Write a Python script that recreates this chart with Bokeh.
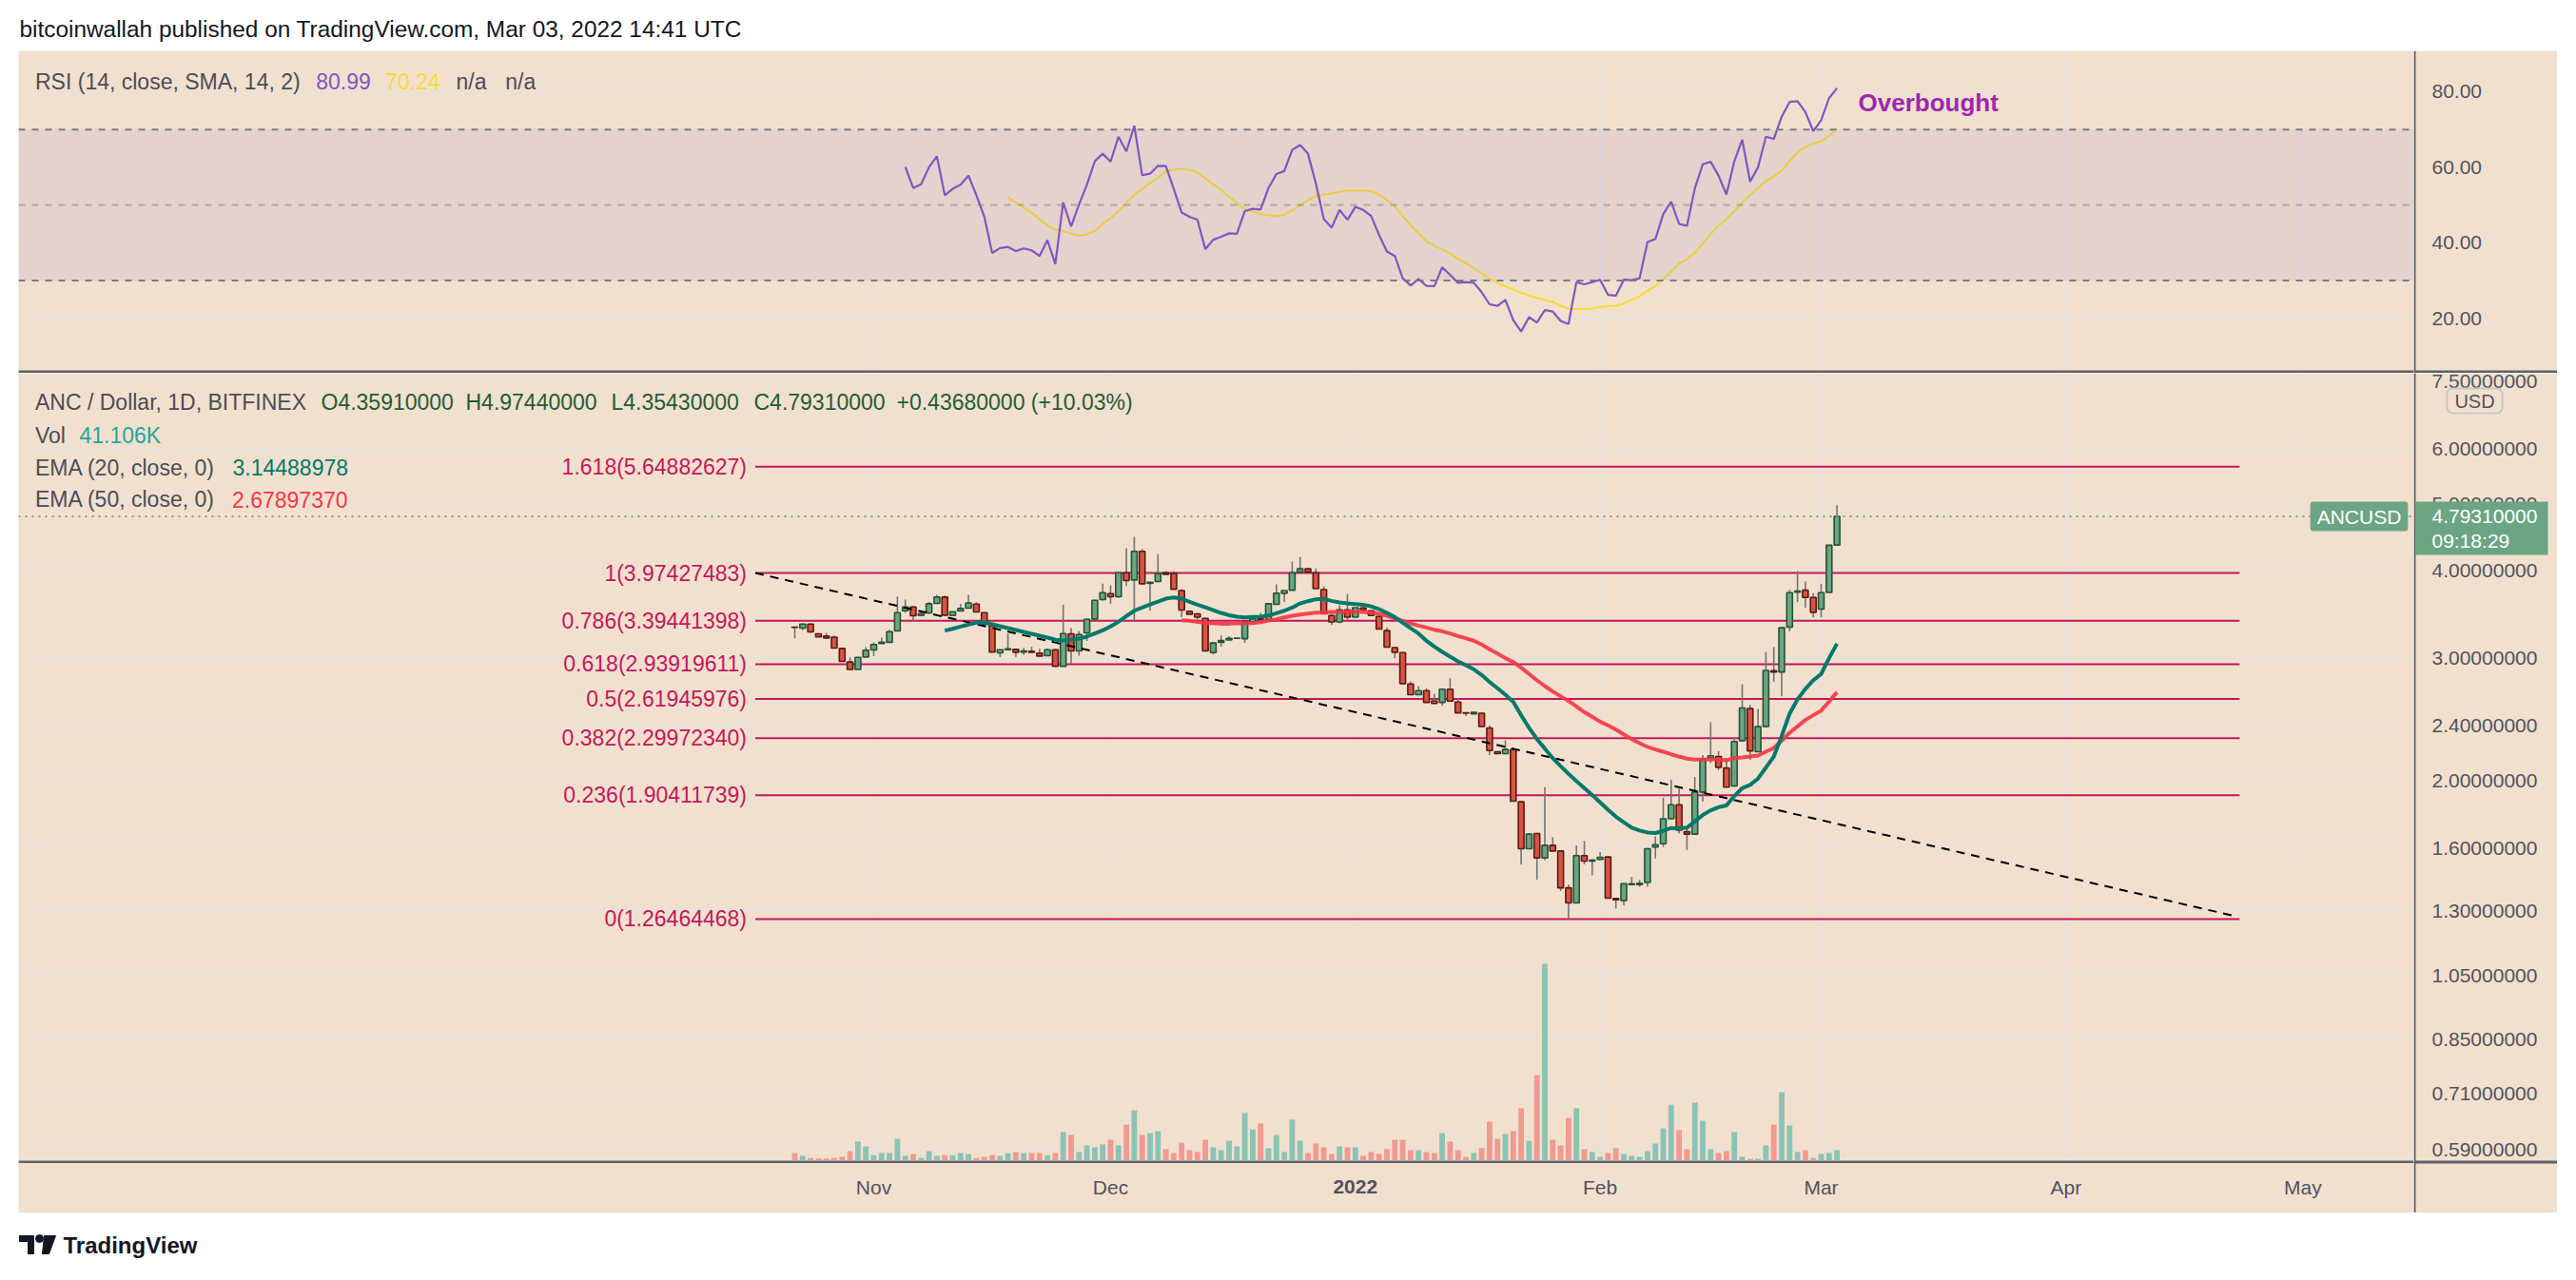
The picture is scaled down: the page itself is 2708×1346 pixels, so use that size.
import math
import pandas as pd
from bokeh.plotting import figure
from bokeh.models import (Range1d, LinearScale, FixedTicker, Grid, Label, BoxAnnotation,
                          Span, Spacer)
from bokeh.layouts import column, row
from bokeh.embed import file_html
from bokeh.resources import INLINE
from bokeh.core.properties import value

# ---------------------------------------------------------------- data
dates = pd.date_range("2021-10-22", "2022-03-03", freq="D")

opens = [3.322, 3.311, 3.356, 3.249, 3.225, 3.214, 3.096, 2.960, 2.888, 3.010,
         3.080, 3.146, 3.160, 3.280, 3.507, 3.551, 3.453, 3.482, 3.593, 3.670,
         3.453, 3.504, 3.537, 3.585, 3.486, 3.342, 3.051, 3.083, 3.086, 3.060,
         3.067, 3.048, 3.022, 3.083, 2.919, 3.249, 3.070, 3.259, 3.413, 3.639,
         3.712, 3.674, 3.978, 3.883, 4.269, 3.839, 3.863, 3.978, 3.970, 3.750,
         3.500, 3.471, 3.420, 3.054, 3.160, 3.183, 3.201, 3.198, 3.380, 3.413,
         3.405, 3.582, 3.716, 3.754, 3.986, 4.029, 3.978, 3.762, 3.453, 3.380,
         3.518, 3.434, 3.540, 3.507, 3.442, 3.284, 3.103, 3.054, 2.753, 2.657,
         2.693, 2.601, 2.590, 2.705, 2.593, 2.502, 2.494, 2.499, 2.380, 2.200,
         2.186, 2.216, 1.864, 1.596, 1.678, 1.548, 1.614, 1.584, 1.402, 1.334,
         1.560, 1.532, 1.540, 1.553, 1.354, 1.344, 1.417, 1.417, 1.427, 1.605,
         1.622, 1.762, 1.846, 1.688, 1.675, 1.925, 2.154, 2.165, 2.084, 1.964,
         2.282, 2.537, 2.200, 2.392, 2.876, 2.864, 3.322, 3.731, 3.754, 3.666,
         3.526, 3.727, 4.3591]
highs = [3.325, 3.363, 3.363, 3.252, 3.259, 3.232, 3.100, 3.006, 3.006, 3.110,
         3.160, 3.208, 3.294, 3.677, 3.639, 3.559, 3.507, 3.612, 3.696, 3.689,
         3.500, 3.589, 3.696, 3.608, 3.489, 3.346, 3.086, 3.252, 3.093, 3.103,
         3.113, 3.093, 3.093, 3.093, 3.580, 3.311, 3.277, 3.416, 3.639, 3.835,
         3.815, 3.978, 4.313, 4.479, 4.304, 3.855, 4.228, 3.999, 3.999, 3.766,
         3.504, 3.475, 3.427, 3.160, 3.232, 3.225, 3.204, 3.387, 3.423, 3.482,
         3.596, 3.827, 3.750, 4.127, 4.192, 4.029, 4.033, 3.803, 3.489, 3.574,
         3.708, 3.544, 3.570, 3.515, 3.449, 3.318, 3.110, 3.057, 2.777, 2.733,
         2.713, 2.665, 2.705, 2.806, 2.629, 2.505, 2.513, 2.507, 2.400, 2.204,
         2.284, 2.222, 1.867, 1.680, 1.682, 1.956, 1.657, 1.589, 1.417, 1.614,
         1.638, 1.543, 1.578, 1.556, 1.355, 1.424, 1.454, 1.439, 1.599, 1.663,
         1.889, 2.005, 1.946, 1.710, 2.023, 2.176, 2.425, 2.204, 2.154, 2.309,
         2.750, 2.568, 2.534, 3.060, 3.110, 3.322, 3.762, 3.999, 3.863, 3.716,
         3.835, 4.3563, 4.9744]
lows = [3.201, 3.287, 3.259, 3.218, 3.198, 3.100, 2.966, 2.888, 2.888, 3.010,
        3.019, 3.146, 3.160, 3.280, 3.482, 3.380, 3.446, 3.471, 3.593, 3.449,
        3.449, 3.500, 3.533, 3.486, 3.346, 3.054, 3.010, 3.077, 3.010, 3.029,
        3.051, 3.016, 3.022, 2.916, 2.916, 2.941, 3.022, 3.173, 3.413, 3.627,
        3.589, 3.658, 3.807, 3.391, 3.827, 3.507, 3.855, 3.953, 3.762, 3.434,
        3.467, 3.391, 3.067, 3.035, 3.116, 3.180, 3.198, 3.153, 3.380, 3.363,
        3.405, 3.582, 3.612, 3.754, 3.986, 3.986, 3.774, 3.471, 3.346, 3.363,
        3.405, 3.434, 3.518, 3.449, 3.301, 3.110, 2.997, 2.756, 2.657, 2.657,
        2.590, 2.581, 2.561, 2.601, 2.502, 2.476, 2.494, 2.392, 2.176, 2.186,
        2.181, 1.865, 1.515, 1.593, 1.440, 1.535, 1.581, 1.387, 1.2646, 1.334,
        1.515, 1.461, 1.537, 1.354, 1.309, 1.323, 1.415, 1.407, 1.407, 1.545,
        1.605, 1.756, 1.678, 1.589, 1.671, 1.865, 2.120, 2.070, 1.956, 1.960,
        2.275, 2.142, 2.196, 2.385, 2.771, 2.643, 3.277, 3.608, 3.544, 3.434,
        3.434, 3.727, 4.3543]
closes = [3.320, 3.356, 3.270, 3.218, 3.204, 3.100, 2.966, 2.888, 3.006, 3.077,
          3.136, 3.160, 3.273, 3.486, 3.551, 3.449, 3.475, 3.589, 3.670, 3.456,
          3.497, 3.533, 3.600, 3.493, 3.353, 3.060, 3.083, 3.093, 3.057, 3.070,
          3.057, 3.019, 3.083, 2.919, 3.252, 3.070, 3.242, 3.409, 3.631, 3.723,
          3.674, 3.978, 3.875, 4.269, 3.835, 3.855, 3.966, 3.957, 3.766, 3.515,
          3.467, 3.434, 3.070, 3.153, 3.177, 3.201, 3.204, 3.380, 3.416, 3.409,
          3.589, 3.716, 3.750, 3.978, 4.029, 3.986, 3.774, 3.471, 3.380, 3.518,
          3.434, 3.544, 3.518, 3.453, 3.301, 3.110, 3.057, 2.756, 2.657, 2.693,
          2.590, 2.581, 2.705, 2.601, 2.502, 2.500, 2.507, 2.392, 2.208, 2.186,
          2.216, 1.868, 1.596, 1.675, 1.548, 1.614, 1.584, 1.402, 1.334, 1.560,
          1.532, 1.537, 1.551, 1.355, 1.348, 1.421, 1.421, 1.423, 1.596, 1.617,
          1.762, 1.846, 1.697, 1.675, 1.925, 2.147, 2.170, 2.089, 1.956, 2.275,
          2.542, 2.206, 2.390, 2.879, 2.864, 3.315, 3.723, 3.742, 3.666, 3.489,
          3.723, 4.3563, 4.7931]
volumes_k = [30, 19, 11, 9, 9, 11, 15, 37, 75, 56,
             22, 30, 30, 86, 19, 26, 11, 37, 19, 22,
             22, 30, 26, 11, 15, 22, 19, 30, 34, 30,
             30, 30, 22, 30, 112, 101, 34, 60, 52, 64,
             82, 60, 142, 198, 101, 108, 116, 45, 30, 71,
             41, 34, 82, 52, 41, 78, 56, 187, 123, 146,
             49, 101, 34, 161, 78, 30, 67, 52, 26, 56,
             52, 52, 19, 34, 26, 45, 82, 82, 41, 41,
             34, 30, 108, 75, 41, 15, 30, 49, 153, 86,
             105, 116, 206, 78, 336, 774, 82, 60, 168, 206,
             45, 34, 15, 30, 49, 26, 19, 15, 37, 67,
             127, 220, 120, 45, 228, 157, 45, 30, 37, 112,
             15, 7, 7, 60, 142, 269, 138, 34, 41, 11,
             26, 30, 41.106]

ema20 = [3.284, 3.304, 3.329, 3.350, 3.371, 3.374, 3.353, 3.332, 3.311, 3.291,
         3.270, 3.250, 3.229, 3.209, 3.186, 3.179, 3.186, 3.199, 3.219, 3.253, 3.287,
         3.329, 3.381, 3.446, 3.507, 3.544, 3.582, 3.616, 3.650, 3.666, 3.650,
         3.612, 3.578, 3.548, 3.515, 3.482, 3.456, 3.438, 3.431, 3.435, 3.438,
         3.453, 3.478, 3.507, 3.544, 3.593, 3.620, 3.643, 3.647, 3.624, 3.605, 3.593,
         3.586, 3.578, 3.559, 3.526, 3.482, 3.435, 3.371, 3.311, 3.253, 3.176,
         3.116, 3.061, 3.014, 2.966, 2.929, 2.890, 2.836, 2.771, 2.714, 2.657,
         2.594, 2.482, 2.380, 2.294, 2.223, 2.154, 2.098, 2.044, 1.996, 1.950, 1.906,
         1.860, 1.816, 1.774, 1.742, 1.711, 1.695, 1.684, 1.681, 1.693, 1.709,
         1.706, 1.711, 1.747, 1.784, 1.812, 1.831, 1.841, 1.900, 1.950, 1.971,
         2.013, 2.087, 2.165, 2.318, 2.495, 2.616, 2.708, 2.786,
         2.845, 2.998, 3.14488978]
ema50 = [3.399, 3.392, 3.381, 3.371, 3.364, 3.360, 3.360, 3.364, 3.364, 3.367,
         3.378, 3.395, 3.409, 3.431, 3.449, 3.464, 3.475, 3.486, 3.489, 3.493, 3.493, 3.496,
         3.496, 3.493, 3.486, 3.471, 3.449, 3.420, 3.392, 3.364, 3.339, 3.318,
         3.294, 3.277, 3.253, 3.226, 3.202, 3.176, 3.136, 3.087, 3.045, 2.998,
         2.960, 2.905, 2.845, 2.786, 2.733, 2.685, 2.643, 2.602, 2.556, 2.508, 2.469,
         2.430, 2.400, 2.367, 2.330, 2.294, 2.263, 2.235, 2.216, 2.200, 2.181,
         2.165, 2.150, 2.143, 2.143, 2.147, 2.143, 2.138, 2.154, 2.158, 2.165,
         2.172, 2.200, 2.228, 2.282, 2.343, 2.392, 2.443, 2.482,
         2.521, 2.597, 2.67897370]

rsi = [60.1, 54.5, 55.5, 60.0, 62.9, 52.6, 54.3, 55.4, 57.8, 52.6,
       47.0, 37.3, 38.6, 38.9, 37.8, 38.5, 38.0, 36.5, 40.7, 34.4,
       50.7, 44.3, 50.1, 55.4, 61.6, 63.6, 61.5, 68.1, 64.2, 71.0,
       57.9, 58.3, 60.4, 60.3, 54.3, 48.0, 46.9, 46.1, 38.3, 40.8,
       41.6, 42.5, 42.4, 48.4, 49.0, 48.8, 54.5, 58.2, 59.0, 64.6,
       65.9, 63.6, 55.7, 46.3, 44.0, 48.7, 46.1, 49.5, 48.7, 47.1,
       42.1, 37.7, 36.5, 30.6, 28.7, 30.4, 28.6, 28.5, 33.5, 31.5,
       29.4, 29.6, 29.4, 26.9, 23.7, 23.3, 24.9, 19.5, 16.5, 20.3,
       18.9, 22.2, 21.8, 19.3, 18.5, 29.6, 29.0, 29.6, 30.2, 26.2,
       26.0, 30.2, 30.1, 30.6, 40.2, 41.0, 47.6, 50.9, 45.0, 44.5,
       54.4, 60.8, 61.5, 57.8, 52.8, 61.6, 67.3, 56.2, 60.0, 68.1,
       67.5, 73.4, 77.3, 77.5, 74.6, 69.6, 72.5, 78.3, 80.99]
rsi_ma = [52.0, 50.7, 49.3, 48.0, 46.3, 44.6, 43.5, 43.1, 42.4, 41.9,
          42.2, 43.1, 45.0, 46.5, 48.4, 50.5, 52.8, 54.3, 55.8, 57.2,
          59.0, 59.3, 59.6, 59.3, 58.7, 57.0, 55.5, 54.0, 52.2, 50.5,
          49.0, 48.2, 47.7, 47.3, 47.1, 47.4, 48.6, 49.9, 51.3, 52.4,
          52.8, 53.1, 53.5, 53.8, 53.8, 53.8, 53.7,
          52.8, 51.3, 49.7, 47.1, 44.6, 42.5, 40.4, 39.2, 38.3, 37.1,
          35.8, 34.6, 33.3, 31.9, 30.5, 29.4, 28.5, 27.7, 26.8, 26.0,
          25.4, 24.9, 24.3, 23.3, 22.6, 22.4, 22.4, 22.6, 23.0, 23.2,
          23.3, 23.9, 24.9, 25.8, 27.3, 28.6, 30.4, 32.3, 34.4, 35.6,
          37.4, 39.8, 42.4, 44.5, 46.4, 48.4, 50.7, 52.7, 54.5, 56.4,
          57.6, 59.1, 61.6, 63.9, 65.4, 66.3, 66.8, 68.3, 70.24]

fib_ratios = ["1.618", "1", "0.786", "0.618", "0.5", "0.382", "0.236", "0"]
fib_prices = [5.64882627, 3.97427483, 3.39441398, 2.93919611, 2.61945976,
              2.29972340, 1.90411739, 1.26464468]
fib_dates = ["2021-10-17", "2022-04-23"]
trend_dates = ["2021-10-17", "2022-04-22"]
trend_prices = [3.97427483, 1.28]

price_ticks = [0.59, 0.71, 0.85, 1.05, 1.3, 1.6, 2.0, 2.4, 3.0, 4.0, 5.0, 6.0, 7.5]
rsi_ticks = [20, 40, 60, 80]
rsi_levels = [70, 50, 30]
month_dates = ["2021-11-01", "2021-12-01", "2022-01-01", "2022-02-01",
               "2022-03-01", "2022-04-01", "2022-05-01"]
month_labels = ["Nov", "Dec", "2022", "Feb", "Mar", "Apr", "May"]

symbol = "ANC / Dollar, 1D, BITFINEX"
ticker_name = "ANCUSD"
countdown = "09:18:29"
header_text = "bitcoinwallah published on TradingView.com, Mar 03, 2022 14:41 UTC"

# ---------------------------------------------------------------- helpers
def day(s):
    return (pd.Timestamp(s) - dates[0]).days

day_idx = [day(d) for d in dates]

def tail_x(series):
    return day_idx[len(day_idx) - len(series):]

BG = "#f2e0ce"
GRID = "#e8e0dc"
AX = "#5d606b"
TXT = "#50535e"
FIB = "#c2185b"
TAG = "#6ba583"
UP_FILL, UP_LINE = "#6ba583", "#225437"
DN_FILL, DN_LINE = "#d75442", "#5b1a13"
WICK = "#737375"
FONT = "Liberation Sans"

# layout (reference pixels)
LEFT_PX, AXIS_PX, RIGHT_PX = 19.0, 2537.0, 2688.0
X0_PX, DAY_PX = 835.0, 8.3
FRAME_W = int(AXIS_PX - LEFT_PX)
AXIS_W = int(RIGHT_PX - AXIS_PX)
RSI_TOP, RSI_H, SEP_H = 53, 336, 3
RMIN, RMAX = 6.2, 90.83
MAIN_TOP, MAIN_FH, TIME_H = 392, 828, 55
YMIN, YMAX = 0.5685, 7.696
VOL_TOP = MAIN_FH * 41.106 / 11.0

xr = Range1d((LEFT_PX - X0_PX) / DAY_PX, (AXIS_PX - X0_PX) / DAY_PX)
month_x = [day(d) for d in month_dates]


def sx(px):
    return px - LEFT_PX


def price_at(py):
    lmax, lmin = math.log(YMAX), math.log(YMIN)
    return math.exp(lmax - (py - MAIN_TOP) / MAIN_FH * (lmax - lmin))


def rsi_at(py):
    return RMAX - (py - RSI_TOP) / RSI_H * (RMAX - RMIN)


def lab(fig, text, x, y, color, size="23px", style="normal", align="left",
        baseline="middle", units="screen", **kw):
    fig.add_layout(Label(x=x, y=y, x_units=units, text=text, text_color=color,
                         text_font=FONT, text_font_size=size, text_font_style=style,
                         text_align=align, text_baseline=baseline, **kw))


def bare(width, height, x_range, y_range, bg=BG, y_type="linear"):
    f = figure(width=width, height=height, x_range=x_range, y_range=y_range,
               y_axis_type=y_type, x_axis_location=None, y_axis_location=None,
               toolbar_location=None, output_backend="svg", min_border=0,
               background_fill_color=bg, border_fill_color=bg, outline_line_color=None)
    f.grid.visible = False
    return f


# ---------------------------------------------------------------- RSI pane
# the pane's frame also holds the dark 3px strip that separates it from the price pane
rsi_yr = Range1d(rsi_at(RSI_TOP + RSI_H + SEP_H), RMAX)
prsi = bare(FRAME_W, RSI_H + SEP_H, xr, rsi_yr)
prsi.add_layout(Grid(dimension=0, ticker=FixedTicker(ticks=month_x),
                     grid_line_color=GRID, grid_line_width=2))
prsi.add_layout(Grid(dimension=1, ticker=FixedTicker(ticks=rsi_ticks),
                     grid_line_color=GRID, grid_line_width=2))
prsi.add_layout(BoxAnnotation(bottom=rsi_levels[2], top=rsi_levels[0], fill_color="#7e57c2",
                              fill_alpha=0.1, line_color=None))
for lv, a in zip(rsi_levels, [1.0, 0.5, 1.0]):
    prsi.add_layout(Span(location=lv, dimension="width", line_color="#787b86",
                         line_alpha=a, line_width=2, line_dash="7 7"))
prsi.line(tail_x(rsi_ma), rsi_ma, line_color="#f5dc3a", line_width=2.2)
prsi.line(tail_x(rsi), rsi, line_color="#7e57c2", line_width=2.2)
prsi.add_layout(BoxAnnotation(bottom=rsi_at(RSI_TOP + RSI_H + SEP_H),
                              top=rsi_at(RSI_TOP + RSI_H), fill_color=AX, fill_alpha=1,
                              line_color=None))

ry_leg = rsi_at(85)
lab(prsi, "RSI (14, close, SMA, 14, 2)", sx(36.5), ry_leg, "#4a4d57")
lab(prsi, f"{rsi[-1]:.2f}", sx(331.7), ry_leg, "#7e57c2")
lab(prsi, f"{rsi_ma[-1]:.2f}", sx(404.6), ry_leg, "#f5dc3a")
lab(prsi, "n/a", sx(479), ry_leg, "#4a4d57")
lab(prsi, "n/a", sx(530.7), ry_leg, "#4a4d57")
lab(prsi, "Overbought", sx(1953), rsi_at(107), "#9c27b0", size="26px", style="bold")

# RSI price scale
prsi_ax = bare(AXIS_W, RSI_H + SEP_H, Range1d(0, AXIS_W), rsi_yr)
prsi_ax.add_layout(Span(location=1, dimension="height", line_color=AX, line_width=2))
prsi_ax.text(x=[19] * len(rsi_ticks), y=rsi_ticks, text=[f"{t:.2f}" for t in rsi_ticks],
             text_font=value(FONT), text_font_size="21px", text_color=TXT,
             text_baseline="middle")
prsi_ax.add_layout(BoxAnnotation(bottom=rsi_at(RSI_TOP + RSI_H + SEP_H),
                                 top=rsi_at(RSI_TOP + RSI_H), fill_color=AX, fill_alpha=1,
                                 line_color=None))

# ---------------------------------------------------------------- main pane
main_yr = Range1d(YMIN, YMAX)
pm = bare(FRAME_W, MAIN_FH, xr, main_yr, y_type="log")
pm.extra_y_ranges = {"vol": Range1d(0, VOL_TOP)}
pm.extra_y_scales = {"vol": LinearScale()}
pm.add_layout(Grid(dimension=0, ticker=FixedTicker(ticks=month_x),
                   grid_line_color=GRID, grid_line_width=2))
pm.add_layout(Grid(dimension=1, ticker=FixedTicker(ticks=price_ticks),
                   grid_line_color=GRID, grid_line_width=2))

up = [c >= o for o, c in zip(opens, closes)]
vol_colors = ["#26a69a" if u else "#ef5350" for u in up]
pm.vbar(x=day_idx, width=0.7, top=volumes_k, bottom=0, y_range_name="vol",
        fill_color=vol_colors, fill_alpha=0.5, line_color=None)

fx0, fx1 = day(fib_dates[0]), day(fib_dates[1])
pm.segment(x0=[fx0] * len(fib_prices), x1=[fx1] * len(fib_prices), y0=fib_prices,
           y1=fib_prices, line_color=FIB, line_width=2)
for r_, pr in zip(fib_ratios, fib_prices):
    pm.add_layout(Label(x=fx0, y=pr, x_offset=-9, text=f"{r_}({pr:.8f})", text_color=FIB,
                        text_font=FONT, text_font_size="23px", text_align="right",
                        text_baseline="middle"))

pm.segment(x0=day_idx, x1=day_idx, y0=lows, y1=highs, line_color=WICK, line_width=1.6)
pm.vbar(x=day_idx, width=0.72, top=[max(o, c) for o, c in zip(opens, closes)],
        bottom=[min(o, c) for o, c in zip(opens, closes)],
        fill_color=[UP_FILL if u else DN_FILL for u in up],
        line_color=[UP_LINE if u else DN_LINE for u in up], line_width=1.6)

pm.line([day(d) for d in trend_dates], trend_prices, line_color="black", line_width=2,
        line_dash="9 7")
pm.line(tail_x(ema50), ema50, line_color="#f23645", line_width=4, line_alpha=0.9)
pm.line(tail_x(ema20), ema20, line_color="#00796b", line_width=4)
pm.add_layout(Span(location=closes[-1], dimension="width", line_color=TAG,
                   line_width=2, line_dash="2 5"))

# legend
GREEN_TXT = "#1f5c36"
chg = closes[-1] - closes[-2]
r1 = price_at(422.5)
lab(pm, symbol, sx(36.5), r1, "#4a4d57")
lab(pm, f"O{opens[-1]:.8f}", sx(337), r1, GREEN_TXT)
lab(pm, f"H{highs[-1]:.8f}", sx(489), r1, GREEN_TXT)
lab(pm, f"L{lows[-1]:.8f}", sx(642), r1, GREEN_TXT)
lab(pm, f"C{closes[-1]:.8f}", sx(792), r1, GREEN_TXT)
lab(pm, f"{chg:+.8f} ({chg / closes[-2] * 100:+.2f}%)", sx(942), r1, GREEN_TXT)
r2 = price_at(457)
lab(pm, "Vol", sx(36.5), r2, "#4a4d57")
lab(pm, f"{volumes_k[-1]:.3f}K", sx(83), r2, "#26a69a")
r3 = price_at(491.4)
lab(pm, "EMA (20, close, 0)", sx(36.5), r3, "#4a4d57")
lab(pm, f"{ema20[-1]:.8f}", sx(244), r3, "#00796b")
r4 = price_at(524.7)
lab(pm, "EMA (50, close, 0)", sx(36.5), r4, "#4a4d57")
lab(pm, f"{ema50[-1]:.8f}", sx(243.5), r4, "#f23645")

# symbol tag at the last price
lab(pm, ticker_name, sx(2479.5), price_at(542.5), "white", size="21px", align="center",
    background_fill_color=TAG, border_radius=3,
    padding=dict(left=7, right=7, top=4, bottom=4))

# time scale (below main pane)
ptime = bare(FRAME_W, TIME_H, xr, Range1d(TIME_H, 0))
ptime.add_layout(Span(location=1, dimension="width", line_color=AX, line_width=3))
norm = [(mx, ml) for mx, ml in zip(month_x, month_labels) if not ml.isdigit()]
yrs = [(mx, ml) for mx, ml in zip(month_x, month_labels) if ml.isdigit()]
ptime.text(x=[m[0] for m in norm], y=[27.5] * len(norm), text=[m[1] for m in norm],
           text_font=value(FONT), text_font_size="21px", text_color=TXT,
           text_align="center", text_baseline="middle")
ptime.text(x=[m[0] for m in yrs], y=[27.5] * len(yrs), text=[m[1] for m in yrs],
           text_font=value(FONT), text_font_size="21px", text_color=TXT,
           text_font_style="bold", text_align="center", text_baseline="middle")

# price scale (right of main pane, spans pane + time scale)
pm_ax = bare(AXIS_W, MAIN_FH + TIME_H, Range1d(0, AXIS_W),
             Range1d(price_at(MAIN_TOP + MAIN_FH + TIME_H), YMAX), y_type="log")
pm_ax.add_layout(Span(location=1, dimension="height", line_color=AX, line_width=2))
pm_ax.add_layout(Span(location=price_at(MAIN_TOP + MAIN_FH + 1.5), dimension="width",
                      line_color=AX, line_width=3))
pm_ax.text(x=[19] * len(price_ticks), y=price_ticks,
           text=[f"{t:.8f}" for t in price_ticks], text_font=value(FONT),
           text_font_size="21px", text_color=TXT, text_baseline="middle")
lab(pm_ax, "USD", 64, price_at(421), TXT, size="20px", align="center", units="data",
    background_fill_color=BG, border_line_color="#c5c8cf", border_line_width=2,
    border_radius=6, padding=dict(left=8, right=8, top=2, bottom=2))
# last-price tag
pm_ax.quad(left=[2], right=[141], top=[price_at(527)], bottom=[price_at(583)],
           fill_color=TAG, line_color=None)
pm_ax.text(x=[19, 19], y=[closes[-1], price_at(568)], text=[f"{closes[-1]:.8f}", countdown],
           text_font=value(FONT), text_font_size="21px", text_color="white",
           text_baseline="middle")

# ---------------------------------------------------------------- header / footer
PAGE_W = 2680
hdr = bare(PAGE_W, 45, Range1d(0, PAGE_W), Range1d(45, 0), bg="white")
hdr.text(x=[12], y=[22], text=[header_text], text_font=value(FONT), text_font_size="24.4px",
         text_baseline="middle", text_color="#131722")

ftr = bare(PAGE_W, 60, Range1d(0, PAGE_W), Range1d(60, 0), bg="white")
ftr.patch([12, 27, 27, 21, 21, 12], [24, 24, 43, 43, 30, 30], color="#131722")
ftr.scatter([33], [27], size=8, color="#131722")
ftr.patch([38, 50, 43, 36], [24, 24, 43, 43], color="#131722")
ftr.text(x=[58], y=[34], text=["TradingView"], text_font=value(FONT), text_font_size="24px",
         text_font_style="bold", text_baseline="middle", text_color="#131722")

chart = column(row(prsi, prsi_ax), row(column(pm, ptime), pm_ax))
body = column(hdr, row(Spacer(width=11, height=RSI_H + SEP_H + MAIN_FH + TIME_H), chart), ftr)
# the rendered page has no body margin, so add the 8px offset explicitly
layout = column(Spacer(width=8, height=8), row(Spacer(width=8, height=10), body))

open("out.html", "w").write(file_html(layout, INLINE))
